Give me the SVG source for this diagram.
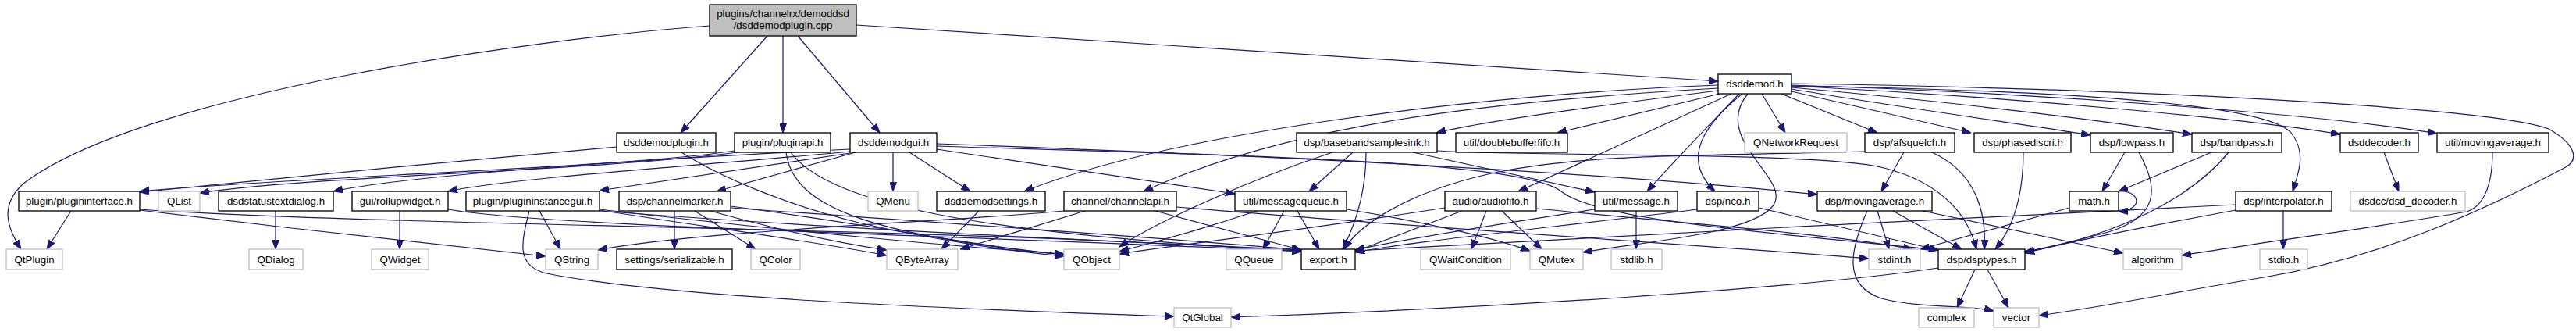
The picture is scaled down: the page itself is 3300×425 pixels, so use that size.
<svg xmlns="http://www.w3.org/2000/svg" width="3300" height="425" viewBox="0 0 3300 425">
<style>
.n rect{fill:#fff;stroke:#000;stroke-width:1.33}
.g rect{fill:#fff;stroke:#bfbfbf;stroke-width:1.33}
.r rect{fill:#bfbfbf;stroke:#000;stroke-width:1.33}
text{font-family:"Liberation Sans",Arial,sans-serif;font-size:13.33px;fill:#000;text-anchor:middle}
#edges path{fill:none;stroke:#191970;stroke-width:1.2;marker-end:url(#a)}
</style>
<defs>
<marker id="a" viewBox="0 0 12 9" refX="12" refY="4.5" markerWidth="12" markerHeight="9" markerUnits="userSpaceOnUse" orient="auto"><path d="M0,0L12,4.5L0,9z" fill="#191970" stroke="#191970" stroke-width="1"/></marker>
</defs>
<rect width="3300" height="425" fill="#fff"/>
<g id="edges">
<path d="M909,33 C680,50 180,120 30,235 C0,262 8,290 27,319"/>
<path d="M983,46 L872,170"/>
<path d="M1003,46 L1003,170"/>
<path d="M1022,46 L1127,170"/>
<path d="M1097,32 L2201,104"/>
<path d="M790,188 C600,205 330,230 179,246"/>
<path d="M873,195 C920,225 1000,260 1100,285 C1200,308 1300,322 1363,328"/>
<path d="M941,193 C800,215 400,225 179,245"/>
<path d="M945,195 C750,220 400,225 256,247"/>
<path d="M1007,195 C1015,260 1100,300 1363,326"/>
<path d="M1013,195 C1060,260 1250,300 1667,321"/>
<path d="M1144,195 L1144,245"/>
<path d="M1165,195 L1243,245"/>
<path d="M1200,191 L1582,248"/>
<path d="M1200,184 C1500,195 2000,215 2328,249"/>
<path d="M1200,187 C1600,200 1950,205 2000,245 C2050,285 2300,300 2483,320"/>
<path d="M1089,196 L768,244"/>
<path d="M1089,194 C900,212 650,228 574,245"/>
<path d="M1089,191 C800,205 520,225 427,245"/>
<path d="M1096,195 L918,245"/>
<path d="M2201,116 C2050,135 1900,155 1840,170"/>
<path d="M2203,120 L1995,170"/>
<path d="M2201,109 C1900,120 1500,170 1312,245"/>
<path d="M2201,113 C1900,130 1650,160 1465,245"/>
<path d="M2218,120 L1945,245"/>
<path d="M2228,120 C2190,160 2150,200 2110,245"/>
<path d="M2232,120 C2170,170 2160,210 2197,245"/>
<path d="M2239,120 C2190,180 2300,230 2270,265 C2240,300 2100,310 2028,323"/>
<path d="M2257,120 L2287,170"/>
<path d="M2282,120 L2405,170"/>
<path d="M2295,117 L2525,170"/>
<path d="M2295,114 C2450,140 2600,160 2678,173"/>
<path d="M2295,112 C2500,130 2700,155 2808,172"/>
<path d="M2295,110 C2600,125 2900,155 2998,172"/>
<path d="M2295,109 C2650,120 3000,150 3122,171"/>
<path d="M2295,110 C2600,115 2900,130 2935,170 C2955,195 2945,220 2937,245"/>
<path d="M2295,107 C2800,115 3200,140 3265,165 C3300,185 3305,205 3285,215 C3180,270 3050,330 2900,355 C2780,375 2700,392 2612,404"/>
<path d="M1707,195 C1600,230 1480,285 1434,316"/>
<path d="M1733,195 L1677,245"/>
<path d="M1750,195 C1750,250 1735,290 1720,319"/>
<path d="M1810,195 L2043,246"/>
<path d="M1841,193 C1950,200 2300,195 2400,212 C2480,228 2520,270 2532,319"/>
<path d="M1610,270 C1550,290 1480,310 1434,322"/>
<path d="M1645,270 L1618,319"/>
<path d="M1662,270 L1690,319"/>
<path d="M1725,268 C1800,280 1900,300 1960,321"/>
<path d="M1363,270 C1200,285 900,295 766,320"/>
<path d="M1390,270 L1230,319"/>
<path d="M1480,270 L1667,320"/>
<path d="M1507,265 C1800,290 2200,315 2394,331"/>
<path d="M1254,270 L1206,319"/>
<path d="M1851,266 C1700,290 1500,315 1434,325"/>
<path d="M1873,270 L1736,322"/>
<path d="M1904,270 L1885,319"/>
<path d="M1924,270 L1975,319"/>
<path d="M1968,267 C2150,285 2350,300 2450,319"/>
<path d="M2096,270 L2096,319"/>
<path d="M2043,268 C1900,290 1780,310 1736,320"/>
<path d="M2174,268 C2000,290 1800,310 1736,323"/>
<path d="M2253,266 L2483,320"/>
<path d="M2405,270 L2420,319"/>
<path d="M2425,270 L2513,319"/>
<path d="M2463,270 L2720,324"/>
<path d="M2392,270 C2370,320 2360,365 2410,382 C2460,395 2520,390 2554,398"/>
<path d="M2439,195 L2410,245"/>
<path d="M2475,195 C2530,220 2545,270 2542,319"/>
<path d="M2389,194 C2200,200 2050,195 1920,220 C1800,245 1740,290 1722,319"/>
<path d="M2592,195 C2592,250 2580,290 2556,319"/>
<path d="M2722,195 L2693,245"/>
<path d="M2740,195 C2765,240 2770,280 2690,300 C2650,310 2620,318 2594,322"/>
<path d="M2833,195 L2714,245"/>
<path d="M2855,195 C2810,250 2720,300 2594,323"/>
<path d="M2708,245 C2740,240 2750,268 2714,271"/>
<path d="M2651,266 L2460,319"/>
<path d="M2925,270 L2925,319"/>
<path d="M2864,269 C2750,290 2650,310 2594,324"/>
<path d="M2864,262 C2500,280 2100,300 1736,321"/>
<path d="M3193,195 C3193,240 3180,265 3160,271 C3050,290 2900,310 2795,327"/>
<path d="M3054,195 L3073,245"/>
<path d="M2530,345 L2507,394"/>
<path d="M2546,345 L2573,394"/>
<path d="M2483,343 C2300,370 1900,395 1577,406"/>
<path d="M91,270 L60,319"/>
<path d="M179,269 C350,290 550,312 699,328"/>
<path d="M179,268 C500,290 1200,290 1667,322"/>
<path d="M353,270 L353,319"/>
<path d="M512,270 L512,319"/>
<path d="M574,268 C700,290 1200,300 1667,322"/>
<path d="M691,270 L718,319"/>
<path d="M678,270 C668,310 660,340 700,350 C850,380 1200,395 1504,405"/>
<path d="M768,268 C1000,295 1250,318 1363,325"/>
<path d="M768,270 C1100,295 1450,310 1667,320"/>
<path d="M768,269 C900,290 1050,310 1136,327"/>
<path d="M864,270 L864,319"/>
<path d="M890,270 L968,319"/>
<path d="M936,264 C1100,285 1250,315 1363,326"/>
<path d="M910,270 C1000,295 1080,312 1136,320"/>
<path d="M936,266 C1200,285 1500,305 1667,320"/>
</g>
<g id="n_top" class="r"><rect x="909" y="6" width="188" height="40"/><text x="1003" y="22">plugins/channelrx/demoddsd</text><text x="1003" y="37">/dsddemodplugin.cpp</text></g>
<g id="n_dsddemod" class="n"><rect x="2201" y="95" width="94" height="25"/><text x="2248" y="112">dsddemod.h</text></g>
<g id="n_dsddemodplugin" class="n"><rect x="790" y="170" width="127" height="25"/><text x="853.5" y="187">dsddemodplugin.h</text></g>
<g id="n_pluginapi" class="n"><rect x="941" y="170" width="123" height="25"/><text x="1002.5" y="187">plugin/pluginapi.h</text></g>
<g id="n_dsddemodgui" class="n"><rect x="1089" y="170" width="111" height="25"/><text x="1144.5" y="187">dsddemodgui.h</text></g>
<g id="n_bbsink" class="n"><rect x="1661" y="170" width="180" height="25"/><text x="1751" y="187">dsp/basebandsamplesink.h</text></g>
<g id="n_dbfifo" class="n"><rect x="1865" y="170" width="143" height="25"/><text x="1936.5" y="187">util/doublebufferfifo.h</text></g>
<g id="n_qnetreq" class="g"><rect x="2235" y="170" width="131" height="25"/><text x="2300.5" y="187">QNetworkRequest</text></g>
<g id="n_afsquelch" class="n"><rect x="2389" y="170" width="115" height="25"/><text x="2446.5" y="187">dsp/afsquelch.h</text></g>
<g id="n_phasediscri" class="n"><rect x="2529" y="170" width="124" height="25"/><text x="2591" y="187">dsp/phasediscri.h</text></g>
<g id="n_lowpass" class="n"><rect x="2678" y="170" width="106" height="25"/><text x="2731" y="187">dsp/lowpass.h</text></g>
<g id="n_bandpass" class="n"><rect x="2808" y="170" width="115" height="25"/><text x="2865.5" y="187">dsp/bandpass.h</text></g>
<g id="n_dsddecoder" class="n"><rect x="2998" y="170" width="100" height="25"/><text x="3048" y="187">dsddecoder.h</text></g>
<g id="n_umovavg" class="n"><rect x="3122" y="170" width="143" height="25"/><text x="3193.5" y="187">util/movingaverage.h</text></g>
<g id="n_plugininterface" class="n"><rect x="24" y="245" width="155" height="25"/><text x="101.5" y="262">plugin/plugininterface.h</text></g>
<g id="n_qlist" class="g"><rect x="203" y="245" width="53" height="25"/><text x="229.5" y="262">QList</text></g>
<g id="n_statusdlg" class="n"><rect x="280" y="245" width="147" height="25"/><text x="353.5" y="262">dsdstatustextdialog.h</text></g>
<g id="n_rollup" class="n"><rect x="451" y="245" width="123" height="25"/><text x="512.5" y="262">gui/rollupwidget.h</text></g>
<g id="n_pigui" class="n"><rect x="597" y="245" width="171" height="25"/><text x="682.5" y="262">plugin/plugininstancegui.h</text></g>
<g id="n_chmarker" class="n"><rect x="793" y="245" width="143" height="25"/><text x="864.5" y="262">dsp/channelmarker.h</text></g>
<g id="n_qmenu" class="g"><rect x="1112" y="245" width="64" height="25"/><text x="1144" y="262">QMenu</text></g>
<g id="n_settings" class="n"><rect x="1200" y="245" width="139" height="25"/><text x="1269.5" y="262">dsddemodsettings.h</text></g>
<g id="n_chapi" class="n"><rect x="1363" y="245" width="144" height="25"/><text x="1435" y="262">channel/channelapi.h</text></g>
<g id="n_msgq" class="n"><rect x="1582" y="245" width="143" height="25"/><text x="1653.5" y="262">util/messagequeue.h</text></g>
<g id="n_audiofifo" class="n"><rect x="1851" y="245" width="117" height="25"/><text x="1909.5" y="262">audio/audiofifo.h</text></g>
<g id="n_message" class="n"><rect x="2043" y="245" width="106" height="25"/><text x="2096" y="262">util/message.h</text></g>
<g id="n_nco" class="n"><rect x="2174" y="245" width="79" height="25"/><text x="2213.5" y="262">dsp/nco.h</text></g>
<g id="n_dmovavg" class="n"><rect x="2328" y="245" width="147" height="25"/><text x="2401.5" y="262">dsp/movingaverage.h</text></g>
<g id="n_math" class="n"><rect x="2651" y="245" width="63" height="25"/><text x="2682.5" y="262">math.h</text></g>
<g id="n_interp" class="n"><rect x="2864" y="245" width="123" height="25"/><text x="2925.5" y="262">dsp/interpolator.h</text></g>
<g id="n_dsdcc" class="g"><rect x="3011" y="245" width="147" height="25"/><text x="3084.5" y="262">dsdcc/dsd_decoder.h</text></g>
<g id="n_qtplugin" class="g"><rect x="8" y="319" width="72" height="26"/><text x="44" y="337">QtPlugin</text></g>
<g id="n_qdialog" class="g"><rect x="319" y="319" width="69" height="26"/><text x="353.5" y="337">QDialog</text></g>
<g id="n_qwidget" class="g"><rect x="476" y="319" width="73" height="26"/><text x="512.5" y="337">QWidget</text></g>
<g id="n_qstring" class="g"><rect x="699" y="319" width="67" height="26"/><text x="732.5" y="337">QString</text></g>
<g id="n_serial" class="n"><rect x="790" y="319" width="148" height="26"/><text x="864" y="337">settings/serializable.h</text></g>
<g id="n_qcolor" class="g"><rect x="962" y="319" width="63" height="26"/><text x="993.5" y="337">QColor</text></g>
<g id="n_qbytearray" class="g"><rect x="1136" y="319" width="91" height="26"/><text x="1181.5" y="337">QByteArray</text></g>
<g id="n_qobject" class="g"><rect x="1363" y="319" width="71" height="26"/><text x="1398.5" y="337">QObject</text></g>
<g id="n_qqueue" class="g"><rect x="1571" y="319" width="71" height="26"/><text x="1606.5" y="337">QQueue</text></g>
<g id="n_export" class="n"><rect x="1667" y="319" width="69" height="26"/><text x="1701.5" y="337">export.h</text></g>
<g id="n_qwait" class="g"><rect x="1820" y="319" width="115" height="26"/><text x="1877.5" y="337">QWaitCondition</text></g>
<g id="n_qmutex" class="g"><rect x="1960" y="319" width="68" height="26"/><text x="1994" y="337">QMutex</text></g>
<g id="n_stdlib" class="g"><rect x="2064" y="319" width="65" height="26"/><text x="2096.5" y="337">stdlib.h</text></g>
<g id="n_stdint" class="g"><rect x="2394" y="319" width="66" height="26"/><text x="2427" y="337">stdint.h</text></g>
<g id="n_dsptypes" class="n"><rect x="2483" y="319" width="111" height="26"/><text x="2538.5" y="337">dsp/dsptypes.h</text></g>
<g id="n_algorithm" class="g"><rect x="2720" y="319" width="75" height="26"/><text x="2757.5" y="337">algorithm</text></g>
<g id="n_stdio" class="g"><rect x="2895" y="319" width="61" height="26"/><text x="2925.5" y="337">stdio.h</text></g>
<g id="n_qtglobal" class="g"><rect x="1504" y="394" width="73" height="25"/><text x="1540.5" y="411">QtGlobal</text></g>
<g id="n_complex" class="g"><rect x="2458" y="394" width="71" height="25"/><text x="2493.5" y="411">complex</text></g>
<g id="n_vector" class="g"><rect x="2554" y="394" width="58" height="25"/><text x="2583" y="411">vector</text></g>
</svg>
